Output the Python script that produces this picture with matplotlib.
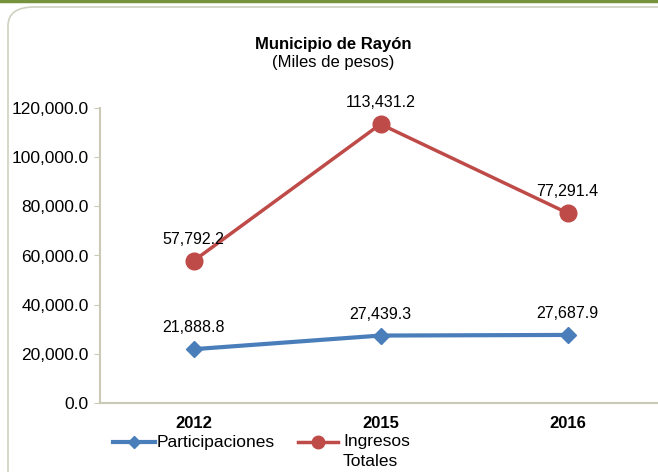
import matplotlib.pyplot as plt
from matplotlib.patches import FancyBboxPatch
from matplotlib.lines import Line2D

plt.rcParams['font.family'] = ['Liberation Sans', 'DejaVu Sans']

years = ['2012', '2015', '2016']
participaciones = [21888.8, 27439.3, 27687.9]
ingresos = [57792.2, 113431.2, 77291.4]
series_names = ['Participaciones', 'Ingresos\nTotales']

blue = '#4a7ebb'
red = '#be4b48'
axis_col = '#c9c9b6'

W, H = 658, 472
fig = plt.figure(figsize=(W / 100, H / 100), dpi=100)

def fx(px):
    return px / W

def fy(py):
    return 1 - py / H

# green strip at the top and rounded frame
fig.add_artist(Line2D([0, 1], [0.998, 0.998], color='#76923c', lw=2.5, transform=fig.transFigure))
frame = FancyBboxPatch((fx(8), -0.1), 1.2, fy(7) + 0.1,
                       boxstyle='round,pad=0,rounding_size=0.04',
                       transform=fig.transFigure, fill=False,
                       edgecolor='#d0d0c0', lw=1.2)
fig.add_artist(frame)

ax = fig.add_axes([fx(100), 69 / H, 561 / W, 295 / H])
x = range(len(years))
ax.plot(x, participaciones, color=blue, lw=3, marker='D', ms=8)
ax.plot(x, ingresos, color=red, lw=2.5, marker='o', ms=12)

for i, v in enumerate(participaciones):
    ax.annotate(f'{v:,.1f}', (i, v), xytext=(0, 10), textcoords='offset points',
                ha='center', va='bottom', fontsize=11.5)
for i, v in enumerate(ingresos):
    ax.annotate(f'{v:,.1f}', (i, v), xytext=(0, 10), textcoords='offset points',
                ha='center', va='bottom', fontsize=11.5)

ax.set_xlim(-0.5, 2.5)
ax.set_ylim(0, 120000)
ax.set_yticks(range(0, 120001, 20000))
ax.set_yticklabels([f'{t:,.1f}' for t in range(0, 120001, 20000)], fontsize=12.5)
ax.set_xticks(list(x))
ax.set_xticklabels(years, fontsize=12, fontweight='bold')
ax.tick_params(axis='x', length=0, pad=9)
ax.tick_params(axis='y', length=4, color=axis_col, pad=4)
for s in ['top', 'right']:
    ax.spines[s].set_visible(False)
for s in ['left', 'bottom']:
    ax.spines[s].set_color(axis_col)
    ax.spines[s].set_linewidth(1.5)

fig.text(fx(333), fy(45), 'Municipio de Rayón', ha='center', va='center',
         fontsize=12, fontweight='bold')
fig.text(fx(333), fy(63), '(Miles de pesos)', ha='center', va='center', fontsize=12)

# legend drawn by hand so the one-line label lines up with the first line of the other
leg_y = 442
fig.add_artist(Line2D([fx(113), fx(155)], [fy(leg_y)] * 2, color=blue, lw=3,
                      transform=fig.transFigure))
fig.add_artist(Line2D([fx(134)], [fy(leg_y)], color=blue, marker='D', ms=6,
                      transform=fig.transFigure))
fig.text(fx(157), fy(leg_y), series_names[0], ha='left', va='center', fontsize=12.5)

fig.add_artist(Line2D([fx(298), fx(338)], [fy(leg_y)] * 2, color=red, lw=2.5,
                      transform=fig.transFigure))
fig.add_artist(Line2D([fx(318)], [fy(leg_y)], color=red, marker='o', ms=9,
                      transform=fig.transFigure))
fig.text(fx(343), fy(leg_y - 8), series_names[1], ha='left', va='top', fontsize=12.5,
         linespacing=1.45)

fig.savefig('out.png', dpi=100)
